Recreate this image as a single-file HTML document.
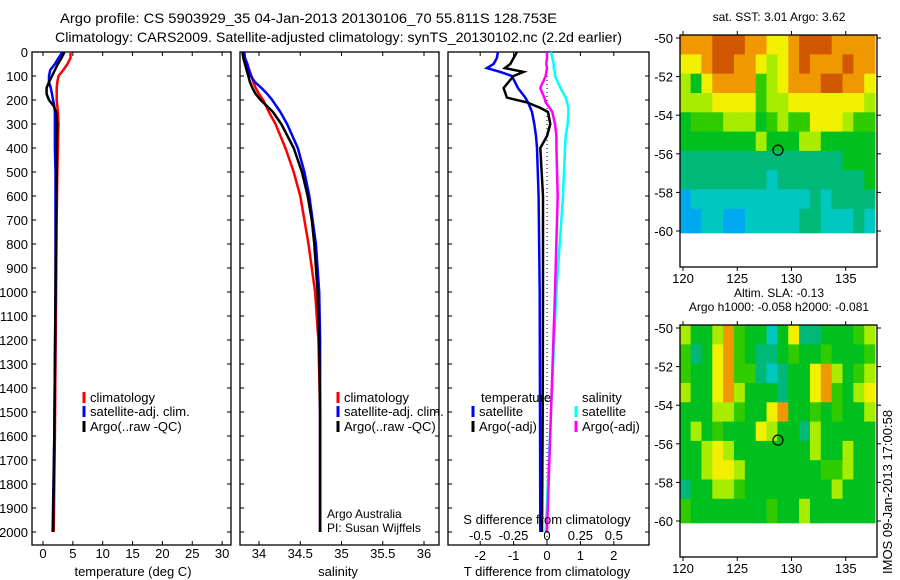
<!DOCTYPE html>
<html><head><meta charset="utf-8"><style>
html,body{margin:0;padding:0;background:#fff;}
svg{display:block;font-family:"Liberation Sans",sans-serif;}
</style></head><body>
<svg id="fig" width="900" height="580" viewBox="0 0 900 580">
<text x="60" y="23" font-size="14" textLength="497" lengthAdjust="spacingAndGlyphs">Argo profile: CS 5903929_35 04-Jan-2013 20130106_70 55.811S 128.753E</text>
<text x="55" y="42" font-size="14" textLength="567" lengthAdjust="spacingAndGlyphs">Climatology: CARS2009. Satellite-adjusted climatology: synTS_20130102.nc (2.2d earlier)</text>
</svg>
<script>
// ---- data ----
const tDepths=[0,10,25,50,75,100,125,150,175,200,225,250,300,400,500,700,1000,1300,1600,2000];
const tArgo=[3.6,3.4,3.1,2.5,2.0,1.5,1.0,0.6,0.6,1.0,1.8,2.2,2.4,2.3,2.3,2.2,2.1,2.0,1.9,1.7];
const tSat=[3.2,3.0,2.6,2.0,1.2,1.0,1.0,1.3,1.5,1.7,1.9,2.0,2.0,2.0,2.1,2.1,2.1,2.0,1.9,1.6];
const tClim=[4.6,4.6,4.6,4.1,3.4,2.6,2.4,2.3,2.3,2.3,2.4,2.5,2.6,2.5,2.4,2.3,2.2,2.1,2.0,1.8];
const sDepths=[0,25,50,75,100,125,150,175,200,250,300,400,500,600,700,800,1000,1200,1500,2000];
const sClim=[33.82,33.83,33.85,33.88,33.91,33.93,33.96,34.0,34.05,34.12,34.2,34.32,34.42,34.5,34.55,34.6,34.68,34.72,34.74,34.74];
const sArgo=[33.80,33.81,33.83,33.85,33.87,33.89,33.92,33.96,34.02,34.17,34.27,34.42,34.52,34.59,34.64,34.67,34.71,34.73,34.74,34.74];
const sSat=[33.82,33.83,33.86,33.88,33.9,33.95,34.03,34.1,34.16,34.26,34.34,34.47,34.55,34.61,34.65,34.69,34.73,34.74,34.74,34.74];
const dDepths=[0,25,50,67,83,100,150,190,210,233,250,300,350,400,600,1000,1500,2000];
const dTArgo=[-0.9,-1.0,-1.1,-1.26,-0.7,-1.0,-1.3,-1.2,-0.6,-0.2,0.03,0.1,0.0,-0.2,-0.12,-0.12,-0.13,-0.15];
const dTSat=[-1.47,-1.5,-1.6,-1.8,-1.4,-1.05,-0.87,-0.65,-0.57,-0.5,-0.45,-0.38,-0.33,-0.3,-0.25,-0.22,-0.21,-0.2];
const dSArgo=[0,0,-0.005,0,-0.005,-0.01,-0.05,-0.02,-0.01,0.02,0.04,0.06,0.07,0.07,0.08,0.06,0.03,0.0];
const dSSat=[0.03,0.04,0.05,0.05,0.06,0.06,0.1,0.14,0.15,0.16,0.16,0.155,0.14,0.135,0.12,0.07,0.03,-0.01];
const depthTicks=[0,100,200,300,400,500,600,700,800,900,1000,1100,1200,1300,1400,1500,1600,1700,1800,1900,2000];
const tTicks=[0,5,10,15,20,25,30];
const sTicks=[34,34.5,35,35.5,36];
const dTTicks=[-2,-1,0,1,2];
const dSTicks=[-0.5,-0.25,0,0.25,0.5];
const sstGrid=["888999887789998888","778998876789888988","647888856788899887","666777756677777776","455566645655777655","444444464446644444","333333333333333444","333333332333333334","122222222222323333","112211222223322232"];
const slaGrid=["644685442473344456","534785433454454445","544785532344786456","644786444344785467","444665447844545446","464544476443644444","446764444444644644","446776444444455644","344665444444446444","544444445446444444"];
const latTicks=[-50,-52,-54,-56,-58,-60];
const lonTicks=[120,125,130,135];
const floatLon=128.753, floatLat=-55.811;

const NS="http://www.w3.org/2000/svg";
const svg=document.getElementById('fig');
function el(tag,attrs,parent){const e=document.createElementNS(NS,tag);for(const k in attrs)e.setAttribute(k,attrs[k]);(parent||svg).appendChild(e);return e;}
function txt(x,y,s,size,anchor,parent){const t=el('text',{x:x,y:y,'font-size':size||13,'text-anchor':anchor||'middle'},parent);t.textContent=s;return t;}

const yTop=52, pxPerM=0.24, yBot=545;
const yD=d=>yTop+d*pxPerM;
const panels=[
 {x0:32,x1:231,name:'temperature-panel'},
 {x0:240,x1:439,name:'salinity-panel'},
 {x0:448,x1:649,name:'difference-panel'}];
const xT=v=>43+v*5.97;
const xS=v=>259+(v-34)*82.5;
const xDT=v=>547+v*33.4;
const xDS=v=>547+v*133.6;

function line(xs,depths,fx,color,name,g){
  const pts=xs.map((v,i)=>fx(v).toFixed(1)+','+yD(depths[i]).toFixed(1)).join(' ');
  const p=el('polyline',{points:pts,fill:'none',stroke:color,'stroke-width':2.5},g);
  
  
}

panels.forEach((p,pi)=>{
  const g=el('g',{});
  
  
  el('rect',{x:p.x0,y:yTop,width:p.x1-p.x0,height:yBot-yTop,fill:'none',stroke:'#000','stroke-width':1.3},g);
  depthTicks.forEach(d=>{
    el('line',{x1:p.x0,x2:p.x0+4,y1:yD(d),y2:yD(d),stroke:'#000'},g);
    el('line',{x1:p.x1,x2:p.x1-4,y1:yD(d),y2:yD(d),stroke:'#000'},g);
  });
  p.g=g;
});
depthTicks.forEach(d=>{const t=txt(28,yD(d)+5,String(d),13,'end');});

const g0=panels[0].g;
tTicks.forEach(v=>{el('line',{x1:xT(v),x2:xT(v),y1:yBot,y2:yBot-4,stroke:'#000'},g0);el('line',{x1:xT(v),x2:xT(v),y1:yTop,y2:yTop+4,stroke:'#000'},g0);
 const t=txt(xT(v),558,String(v),13);});
line(tClim,tDepths,xT,'#f00','temp-climatology-line',g0);
line(tSat,tDepths,xT,'#00f','temp-satellite-line',g0);
line(tArgo,tDepths,xT,'#000','temp-argo-line',g0);
txt(133,576,'temperature (deg C)',13);

function legend(x,y,color,label,g,name){
  el('line',{x1:x,x2:x,y1:y-10,y2:y+1,stroke:color,'stroke-width':3},g);
  const t=txt(x+6,y,label,13,'start',g);
  
  
}
legend(84,402,'#f00','climatology',g0,'legend-climatology');
legend(84,416,'#00f','satellite-adj. clim.',g0,'legend-satellite');
legend(84,431,'#000','Argo(..raw -QC)',g0,'legend-argo');

const g1=panels[1].g;
sTicks.forEach(v=>{el('line',{x1:xS(v),x2:xS(v),y1:yBot,y2:yBot-4,stroke:'#000'},g1);el('line',{x1:xS(v),x2:xS(v),y1:yTop,y2:yTop+4,stroke:'#000'},g1);
 const t=txt(xS(v),558,String(v),13);});
line(sClim,sDepths,xS,'#f00','sal-climatology-line',g1);
line(sSat,sDepths,xS,'#00f','sal-satellite-line',g1);
line(sArgo,sDepths,xS,'#000','sal-argo-line',g1);
txt(338,576,'salinity',13);
legend(338,402,'#f00','climatology',g1,'legend-climatology-2');
legend(338,416,'#00f','satellite-adj. clim.',g1,'legend-satellite-2');
legend(338,431,'#000','Argo(..raw -QC)',g1,'legend-argo-2');
txt(327,518,'Argo Australia',12,'start',g1);
txt(327,532,'PI: Susan Wijffels',12,'start',g1);

const g2=panels[2].g;
el('line',{x1:547,x2:547,y1:yTop,y2:yBot,stroke:'#000','stroke-dasharray':'1,3'},g2);
dTTicks.forEach(v=>{el('line',{x1:xDT(v),x2:xDT(v),y1:yBot,y2:yBot-4,stroke:'#000'},g2);el('line',{x1:xDT(v),x2:xDT(v),y1:yTop,y2:yTop+4,stroke:'#000'},g2);
 const t=txt(xDT(v),560,String(v),13);});
line(dTSat,dDepths,xDT,'#00f','tdiff-satellite-line',g2);
line(dTArgo,dDepths,xDT,'#000','tdiff-argo-line',g2);
line(dSSat,dDepths,xDS,'#0ff','sdiff-satellite-line',g2);
line(dSArgo,dDepths,xDS,'#f0f','sdiff-argo-line',g2);
dSTicks.forEach(v=>{const t=txt(xDS(v),540,String(v),13);});
txt(547,524,'S difference from climatology',13);
txt(547,576,'T difference from climatology',13);
txt(481,402,'temperature',13,'start',g2);
legend(473,416,'#00f','satellite',g2,'legend-t-satellite');
legend(473,431,'#000','Argo(-adj)',g2,'legend-t-argo');
txt(582,402,'salinity',13,'start',g2);
legend(576,416,'#0ff','satellite',g2,'legend-s-satellite');
legend(576,431,'#f0f','Argo(-adj)',g2,'legend-s-argo');

const cmap=['#0070f0','#00a8f0','#00c8c0','#00b878','#00c020','#30cc00','#a8ec00','#f0f000','#f09800','#d05800'];
function drawMap(grid,top,name,titleLines){
  const g=el('g',{});
  
  
  const x0=680,x1=877,lat0=top+3;
  const xL=lon=>683+(lon-120)*10.85;
  const yL=lat=>lat0+(-50-lat)*19.3;
  grid.forEach((row,r)=>{
    for(let c=0;c<row.length;c++){
      const xa=Math.max(x0,xL(120+c-0.3)), xb=Math.min(x1,xL(121+c-0.3));
      const ya=Math.max(top,yL(-49.85-r)), yb=(r==grid.length-1?yL(-60.1):yL(-50.85-r));
      el('rect',{x:xa,y:ya,width:xb-xa+0.4,height:yb-ya+0.4,fill:cmap[+row[c]]},g);
    }
  });
  el('rect',{x:x0,y:top,width:x1-x0,height:232,fill:'none',stroke:'#000','stroke-width':1.3},g);
  latTicks.forEach(l=>{el('line',{x1:x0-4,x2:x0,y1:yL(l),y2:yL(l),stroke:'#000'},g);el('line',{x1:x1,x2:x1+4,y1:yL(l),y2:yL(l),stroke:'#000'},g);
    const t=txt(673,yL(l)+5,String(l),13,'end',g);});
  lonTicks.forEach(l=>{el('line',{x1:xL(l),x2:xL(l),y1:top,y2:top-4,stroke:'#000'},g);el('line',{x1:xL(l),x2:xL(l),y1:top+232,y2:top+236,stroke:'#000'},g);
    const t=txt(xL(l),top+248,String(l),13,'middle',g);});
  el('circle',{cx:xL(floatLon),cy:yL(floatLat),r:5,fill:'none',stroke:'#000','stroke-width':1.2},g);
  titleLines.forEach((s,i)=>{const t=txt(779,top-18-(titleLines.length-1-i)*14+4,s,12,'middle',g);});
}
drawMap(sstGrid,35,'sst-map',['sat. SST: 3.01  Argo: 3.62']);
drawMap(slaGrid,325,'sla-map',['Altim. SLA: -0.13','Argo h1000: -0.058 h2000: -0.081']);
const v=txt(0,0,'IMOS 09-Jan-2013 17:00:58',13,'start');
v.setAttribute('transform','translate(892,574) rotate(-90)');


</script>
</body></html>
